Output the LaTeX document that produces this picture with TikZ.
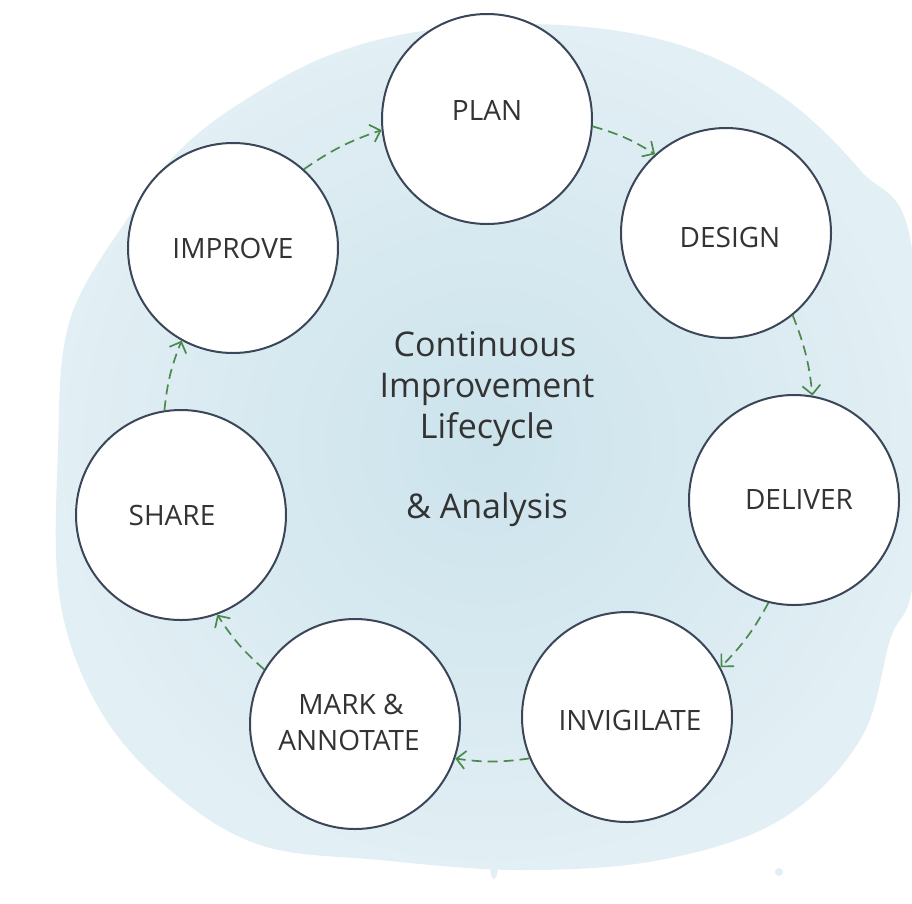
\documentclass[tikz,border=0pt]{standalone}
\usepackage{fontspec}
\setmainfont{Open Sans}
\usetikzlibrary{arrows.meta}
\definecolor{ring}{HTML}{3B4759}
\definecolor{flow}{HTML}{4A8A4E}
\definecolor{ink}{HTML}{333333}
\definecolor{wash}{HTML}{CCE3EC}
\definecolor{washlight}{HTML}{E2EFF4}
\begin{document}
\begin{tikzpicture}[x=1pt,y=-1pt,
  stage/.style={circle, draw=ring, line width=2pt, fill=white, minimum size=210pt, inner sep=0pt},
  lbl/.style={anchor=base, text=ink, inner sep=0pt, font=\fontsize{28}{34}\selectfont},
  ttl/.style={anchor=base, text=ink, inner sep=0pt, font=\fontsize{34}{41}\selectfont},
  flowarrow/.style={draw=flow, line width=1.7pt, dash pattern=on 10pt off 6pt,
    -{Straight Barb[length=9pt,width=18pt]}, bend left=8}]
\useasboundingbox (0,0) rectangle (912,903);
\fill[white] (0,0) rectangle (912,903);
% watercolour wash
\shade[inner color=wash, outer color=washlight]
  plot[smooth cycle, tension=0.6] coordinates {
  (245,100) (330,55) (430,30) (560,25) (680,45) (780,95) (860,170) (912,250)
  (915,560) (890,640) (860,740) (780,820) (660,860) (520,870) (380,860)
  (260,845) (170,790) (100,710) (60,600) (58,450) (70,320) (130,215) (180,150)};
\fill[washlight] (849,706) circle (5);
\fill[washlight] (779,872) circle (4);
\fill[washlight] (494,865) ellipse (4 and 14);

% stages
\node[stage] (plan)    at (487,119) {};
\node[stage] (design)  at (726,233) {};
\node[stage] (deliver) at (794,500) {};
\node[stage] (invig)   at (627,717) {};
\node[stage] (mark)    at (355,724) {};
\node[stage] (share)   at (181,515) {};
\node[stage] (improve) at (233,248) {};

% labels
\node[lbl] (planT)    at (487,120) {PLAN};
\node[lbl] (designT)  at (730,247) {DESIGN};
\node[lbl] (deliverT) at (799,509) {DELIVER};
\node[lbl] (invigT)   at (630,730) {INVIGILATE};
\node[lbl] (markT1)   at (351,714) {MARK \&};
\node[lbl] (markT2)   at (349,750) {ANNOTATE};
\node[lbl] (shareT)   at (172,525) {SHARE};
\node[lbl] (improveT) at (233,258) {IMPROVE};

% centre title
\node[ttl] (t1) at (485,356) {Continuous};
\node[ttl] (t2) at (487,397) {Improvement};
\node[ttl] (t3) at (487,438) {Lifecycle};
\node[ttl] (t4) at (487,518) {\& Analysis};

% flow
\draw[flowarrow] (improve.48) to (plan.186);
\draw[flowarrow] (plan.-4) to (design.132);
\draw[flowarrow] (design.-51) to (deliver.80);
\draw[flowarrow] (deliver.-104) to (invig.28);
\draw[flowarrow] (invig.203) to (mark.-19);
\draw[flowarrow] (mark.149) to (share.-70);
\draw[flowarrow] (share.99) to (improve.-119);
\end{tikzpicture}
\end{document}
